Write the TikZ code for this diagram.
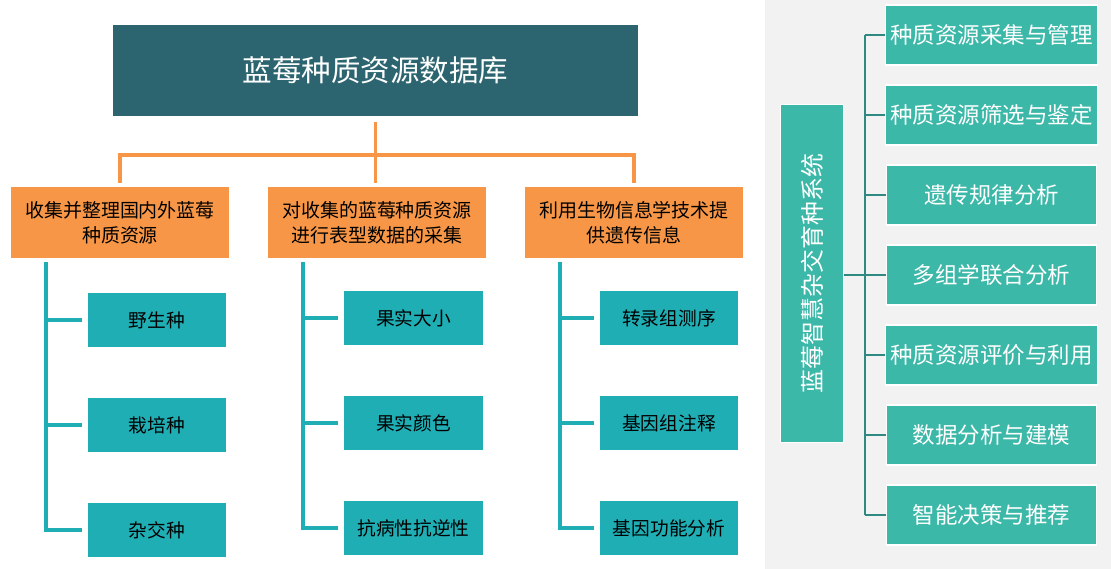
\documentclass[tikz,border=0pt]{standalone}
\usepackage{fontspec}
\usepackage{xcolor}
\usepackage{tikz}
\usetikzlibrary{positioning, calc}
\newfontfamily\cjk{Noto Sans CJK SC}
\definecolor{headteal}{HTML}{2C6570}
\definecolor{orangebox}{HTML}{F79646}
\definecolor{tealbox}{HTML}{20AEB5}
\definecolor{greenbox}{HTML}{3CB8A9}
\definecolor{greenline}{HTML}{2E8A80}
\definecolor{panel}{HTML}{F2F2F2}

\begin{document}
\begin{tikzpicture}[x=0.025cm, y=-0.025cm, align=center,
  head/.style={rectangle, fill=headteal, text=white, minimum width=13.1cm, minimum height=2.27cm, font=\cjk\fontsize{21}{24}\selectfont},
  topic/.style={rectangle, fill=orangebox, text=black, minimum width=5.45cm, minimum height=1.77cm, font=\cjk\fontsize{13.5}{18}\selectfont},
  leaf/.style={rectangle, fill=tealbox, text=black, minimum width=3.47cm, minimum height=1.36cm, font=\cjk\fontsize{13.3}{16}\selectfont},
  task/.style={rectangle, fill=greenbox, draw=white, line width=1pt, text=white, minimum width=5.25cm, minimum height=1.5cm, font=\cjk\fontsize{16}{19}\selectfont},
  sysbox/.style={rectangle, fill=greenbox, draw=white, line width=1pt, text=white, minimum width=8.45cm, minimum height=1.58cm, rotate=90, font=\cjk\fontsize{17}{20}\selectfont},
  oline/.style={draw=orangebox, line width=2.8pt, shorten >=3pt, shorten <=4pt},
  tline/.style={draw=tealbox, line width=2.8pt, shorten >=4pt},
  gline/.style={draw=greenline, line width=2pt}]
\useasboundingbox (0,0) rectangle (1111,569);
\fill[panel] (765,0) rectangle (1111,569);

% database tree
\node[head] at (375.5,70.5) (db) {蓝莓种质资源数据库};
\node[topic] at (120,222.5) (t1) {收集并整理国内外蓝莓\\种质资源};
\node[topic] at (377,222.5) (t2) {对收集的蓝莓种质资源\\进行表型数据的采集};
\node[topic] at (634,222.5) (t3) {利用生物信息学技术提\\供遗传信息};
\coordinate (bar) at (375.5,155);
\draw[oline] (db.south) -- (db.south |- t2.north);
\draw[oline, shorten <=0pt] (bar) -| (t1.north);
\draw[oline, shorten <=0pt] (bar) -| (t3.north);

\node[leaf] at (157,320) (l11) {野生种};
\node[leaf] at (157,425) (l12) {栽培种};
\node[leaf] at (157,530) (l13) {杂交种};
\node[leaf] at (413.5,318) (l21) {果实大小};
\node[leaf] at (413.5,423) (l22) {果实颜色};
\node[leaf] at (413.5,528) (l23) {抗病性抗逆性};
\node[leaf] at (669,318) (l31) {转录组测序};
\node[leaf] at (669,423) (l32) {基因组注释};
\node[leaf] at (669,528) (l33) {基因功能分析};
\foreach \c in {1,2,3}
  \foreach \r in {1,2,3}
    \draw[tline] ([xshift=0.875cm, yshift=-0.1cm]t\c.south west) |- (l\c\r.west);

% breeding system
\node[sysbox] at (812,273.5) (sys) {蓝莓智慧杂交育种系统};
\node[task] at (991.5,35) (r1) {种质资源采集与管理};
\node[task] at (991.5,115) (r2) {种质资源筛选与鉴定};
\node[task] at (991.5,195) (r3) {遗传规律分析};
\node[task] at (991.5,275) (r4) {多组学联合分析};
\node[task] at (991.5,355) (r5) {种质资源评价与利用};
\node[task] at (991.5,435) (r6) {数据分析与建模};
\node[task] at (991.5,515) (r7) {智能决策与推荐};
\coordinate (spine) at (865,0);
\draw[gline] (sys.south |- r4.west) -- (spine |- r4.west);
\draw[gline] (spine |- r1.west) -- (spine |- r7.west);
\foreach \i in {1,...,7}
  \draw[gline] (spine |- r\i.west) -- (r\i.west);
\end{tikzpicture}
\end{document}
